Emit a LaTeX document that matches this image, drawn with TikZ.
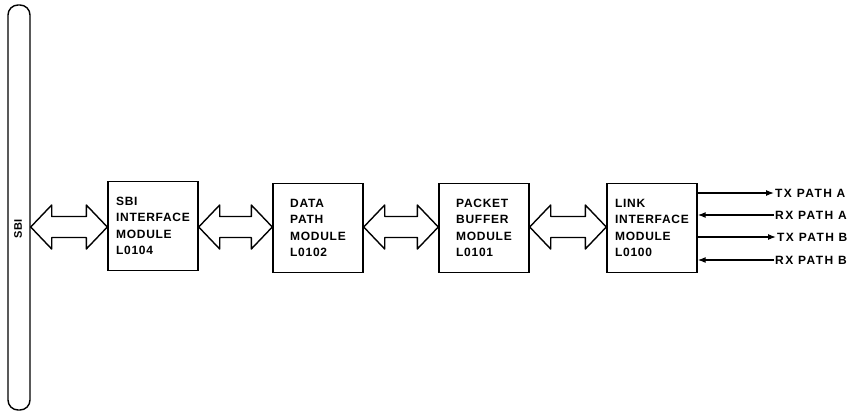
\documentclass[tikz,border=0pt]{standalone}
\usepackage{fontspec}
\setmainfont{Liberation Sans}[LetterSpace=6]
\usetikzlibrary{calc,arrows.meta}

% wide two-headed bus arrow between two points on one level
\newcommand{\busarrow}[2]{%
  \draw [black, line width=1.4pt, line join=round]
    (#1) -- ++(21,-22) -- ++(0,11.5) -- ($(#2)+(-21,-10.5)$) -- ++(0,-11.5)
    -- (#2) -- ++(-21,22) -- ++(0,-11.5) -- ($(#1)+(21,10.5)$) -- ++(0,11.5) -- cycle;}

\begin{document}
\begin{tikzpicture}[x=1pt,y=-1pt,
    module/.style={draw, line width=1.4pt, minimum width=90pt, minimum height=89pt,
      align=left, font=\fontsize{12}{16.3}\selectfont\bfseries},
    pathlbl/.style={anchor=west, inner sep=1pt,
      font=\fontsize{12}{13}\selectfont\bfseries\addfontfeature{LetterSpace=12}},
    sig/.style={line width=1.2pt, -{Latex[length=8pt,width=6pt]}}]
  \useasboundingbox (0,0) rectangle (850,413);
  % backplane bus
  \node [draw, line width=1.4pt, rounded corners=10pt, minimum width=22pt,
    minimum height=405pt, inner sep=0pt] (sbi) at (19,207.5) {};
  \node [rotate=90, font=\fontsize{11}{11}\selectfont\bfseries, inner sep=0pt] (sbilbl) at (18,229) {SBI};
  % modules
  \node [module] (sbim) at (153,226) {SBI\\INTERFACE\\MODULE\\L0104};
  \node [module] (dpm) at (318,228) {DATA\\PATH\\MODULE\\L0102};
  \node [module] (pbm) at (484,228) {PACKET\\BUFFER\\MODULE\\L0101};
  \node [module] (lim) at (652,228) {LINK\\INTERFACE\\MODULE\\L0100};
  \coordinate (busport) at (sbi.east |- 0,227);
  \busarrow{busport}{sbim.west |- busport}
  \busarrow{sbim.east |- busport}{dpm.west |- busport}
  \busarrow{dpm.east |- busport}{pbm.west |- busport}
  \busarrow{pbm.east |- busport}{lim.west |- busport}
  % link paths
  \node [pathlbl] (txa) at (774,193) {TX PATH A};
  \node [pathlbl] (rxa) at (774,215) {RX PATH A};
  \node [pathlbl] (txb) at (776,237) {TX PATH B};
  \node [pathlbl] (rxb) at (774,260) {RX PATH B};
  \draw [sig] (lim.east |- txa) -- (txa.west);
  \draw [sig] (rxa.west) -- (lim.east |- rxa);
  \draw [sig] (lim.east |- txb) -- (txb.west);
  \draw [sig] (rxb.west) -- (lim.east |- rxb);
\end{tikzpicture}
\end{document}
